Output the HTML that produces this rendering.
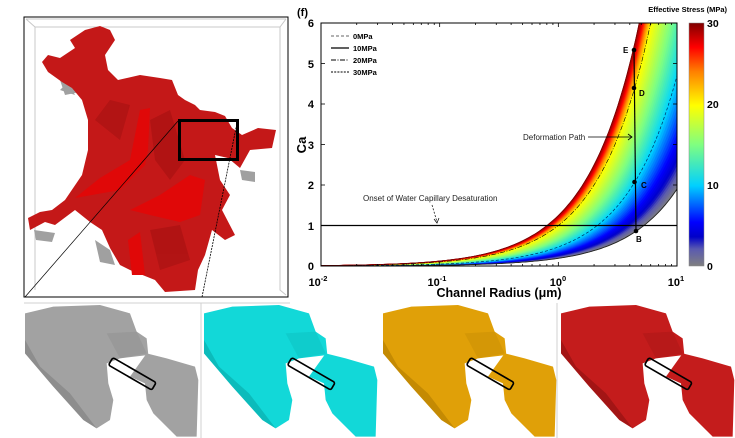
<!DOCTYPE html>
<html><head><meta charset="utf-8"><style>
html,body{margin:0;background:#fff;width:735px;height:438px;overflow:hidden;}
svg{display:block;font-family:"Liberation Sans",sans-serif;}
</style></head><body>
<svg id="s" width="735" height="438" viewBox="0 0 735 438" xmlns="http://www.w3.org/2000/svg">
<defs>
<clipPath id="pc"><rect x="321" y="23" width="356" height="243"/></clipPath>
<linearGradient id="cb" x1="0" y1="1" x2="0" y2="0">
<stop offset="0" stop-color="#808080"/><stop offset="0.07" stop-color="#5a5ab0"/><stop offset="0.12" stop-color="#0000c8"/>
<stop offset="0.18" stop-color="#0000ff"/><stop offset="0.33" stop-color="#00d0ff"/><stop offset="0.5" stop-color="#80ff80"/>
<stop offset="0.66" stop-color="#ffff00"/><stop offset="0.8" stop-color="#ff8000"/><stop offset="0.9" stop-color="#ff0000"/><stop offset="1" stop-color="#800000"/>
</linearGradient>
</defs>
<!-- 3D panel -->
<rect x="24" y="17" width="264" height="280" fill="#fff" stroke="#000" stroke-width="1"/>
<path d="M26,19 L286,19 M26,19 L35,27 L280,27 L286,19 M280,27 L280,290 L286,295 M35,27 L35,290" stroke="#c8c8c8" fill="none"/>
<g fill="#a0a0a0">
<polygon points="60,80 70,78 80,92 65,95"/><polygon points="95,240 110,250 115,265 100,262"/><polygon points="34,230 55,233 52,242 36,240"/>
<polygon points="240,170 255,172 255,182 242,180"/><polygon points="60,90 68,82 75,95"/>
</g>
<g fill="#c41818">
<polygon points="42,62 48,55 60,58 75,48 70,40 85,30 100,26 110,30 115,40 105,55 108,70 118,80 140,75 160,78 172,80 178,95 185,100 195,105 200,110 215,112 225,116 232,128 242,135 258,128 276,130 272,148 250,150 240,168 228,158 215,155 220,180 230,195 222,210 235,235 225,240 212,230 205,255 198,270 195,290 165,292 155,280 130,270 120,265 110,248 102,230 90,222 75,210 55,225 45,222 30,230 28,218 40,212 52,210 65,200 82,175 88,150 88,120 82,100 72,88 62,82 48,72"/>
</g>
<g fill="#e00808">
<polygon points="75,198 100,178 130,160 140,110 150,108 148,150 145,165 120,190"/>
<polygon points="130,210 160,195 190,175 205,180 200,215 180,222 150,215"/>
<polygon points="128,240 140,232 145,275 132,275"/>
</g>
<g fill="#a01010" opacity="0.5">
<polygon points="150,120 170,110 185,160 170,180 155,160"/><polygon points="150,230 180,225 190,260 160,270"/><polygon points="95,120 110,100 130,105 120,140"/>
</g>
<rect x="179.5" y="120.5" width="58" height="39" fill="none" stroke="#000" stroke-width="3"/>
<line x1="25" y1="297" x2="178" y2="121" stroke="#000" stroke-width="0.7"/>
<line x1="202" y1="297" x2="237" y2="123" stroke="#000" stroke-width="0.8" stroke-dasharray="2,1"/>

<!-- bottom panels -->
<g id="bp"></g>
<line x1="24" y1="303" x2="290" y2="303" stroke="#d0d0d0"/>
<line x1="201" y1="303" x2="201" y2="438" stroke="#d0d0d0"/>
<line x1="557" y1="303" x2="557" y2="438" stroke="#d0d0d0"/>

<!-- chart -->
<g id="bands" clip-path="url(#pc)"></g>
<g id="lines" clip-path="url(#pc)" fill="none"></g>
<rect x="321" y="23" width="356" height="243" fill="none" stroke="#000" stroke-width="1"/>
<g id="ticks" stroke="#000" stroke-width="0.8"></g>
<line x1="321" y1="225.5" x2="677" y2="225.5" stroke="#000" stroke-width="1.3"/>
<line x1="634" y1="50" x2="636" y2="231" stroke="#000" stroke-width="1.2"/>
<g fill="#000"><circle cx="634" cy="50" r="2.3"/><circle cx="634" cy="88" r="2.3"/><circle cx="634.5" cy="182" r="2.3"/><circle cx="636" cy="231" r="2.3"/></g>
<g font-size="8" font-weight="bold"><text x="623" y="53">E</text><text x="639" y="96">D</text><text x="641" y="188">C</text><text x="636" y="242">B</text></g>
<text x="363" y="201" font-size="8" fill="#222">Onset of Water Capillary Desaturation</text>
<path d="M432,205 L437,222" stroke="#000" stroke-width="0.7" stroke-dasharray="2,1.5" fill="none"/>
<path d="M434,219 L437,223 L439,218" stroke="#000" stroke-width="0.7" fill="none"/>
<text x="523" y="140" font-size="8" fill="#222">Deformation Path</text>
<path d="M588,137 L632,137" stroke="#000" stroke-width="0.7"/>
<path d="M628,134 L632,137 L628,140" stroke="#000" stroke-width="0.8" fill="none"/>
<g font-size="7.5" font-weight="bold">
<line x1="331" y1="36" x2="349" y2="36" stroke="#666" stroke-dasharray="3,2"/><text x="353" y="39">0MPa</text>
<line x1="331" y1="48" x2="349" y2="48" stroke="#000" stroke-width="1.2"/><text x="353" y="51">10MPa</text>
<line x1="331" y1="60" x2="349" y2="60" stroke="#000" stroke-dasharray="5,1.5,1,1.5"/><text x="353" y="63">20MPa</text>
<line x1="331" y1="72" x2="349" y2="72" stroke="#000" stroke-dasharray="2,1.2"/><text x="353" y="75">30MPa</text>
</g>
<g font-size="11" font-weight="bold" text-anchor="end">
<text x="314" y="27">6</text><text x="314" y="68">5</text><text x="314" y="108">4</text><text x="314" y="149">3</text><text x="314" y="189">2</text><text x="314" y="230">1</text><text x="314" y="270">0</text>
</g>
<g font-size="11" font-weight="bold" text-anchor="middle">
<text x="318" y="286">10<tspan dy="-5" font-size="7.5">-2</tspan></text>
<text x="437" y="286">10<tspan dy="-5" font-size="7.5">-1</tspan></text>
<text x="558" y="286">10<tspan dy="-5" font-size="7.5">0</tspan></text>
<text x="676" y="286">10<tspan dy="-5" font-size="7.5">1</tspan></text>
<text x="499" y="297" font-size="12.5">Channel Radius (μm)</text>
</g>
<text x="306" y="145" font-size="13" font-weight="bold" transform="rotate(-90 306 145)" text-anchor="middle">Ca</text>
<text x="297" y="16" font-size="11" font-weight="bold">(f)</text>
<text x="727" y="12" font-size="7.5" font-weight="bold" text-anchor="end">Effective Stress (MPa)</text>
<rect x="689" y="23" width="15" height="243" fill="url(#cb)" stroke="#888" stroke-width="0.5"/>
<g font-size="10.5" font-weight="bold"><text x="707" y="27">30</text><text x="707" y="108">20</text><text x="707" y="189">10</text><text x="707" y="270">0</text></g>
</svg>
<script>
(function(){
var NS="http://www.w3.org/2000/svg";
function el(p,t,a){var e=document.createElementNS(NS,t);for(var k in a)e.setAttribute(k,a[k]);p.appendChild(e);return e;}
function X(r){return 321+(Math.log10(r)+2)*118.67;}
function Y(c){return 266-c*40.5;}
var A=[[0,0.19],[10,0.47],[20,1.0],[30,1.25]];
function a(s){for(var i=0;i<3;i++){if(s<=A[i+1][0]){var t=(s-A[i][0])/10;return A[i][1]*Math.pow(A[i+1][1]/A[i][1],t);}}return A[3][1];}
var C=[[0,128,128,128],[2,90,90,176],[3.5,0,0,200],[5.5,0,0,255],[10,0,215,255],[15,128,255,128],[20,255,255,0],[24,255,128,0],[27,255,0,0],[30,150,0,0]];
function col(s){for(var i=0;i<C.length-1;i++){if(s<=C[i+1][0]){var t=(s-C[i][0])/(C[i+1][0]-C[i][0]);
 var r=C[i][1]+(C[i+1][1]-C[i][1])*t,g=C[i][2]+(C[i+1][2]-C[i][2])*t,b=C[i][3]+(C[i+1][3]-C[i][3])*t;
 return "rgb("+Math.round(r)+","+Math.round(g)+","+Math.round(b)+")";}}return "rgb(150,0,0)";}
var bands=document.getElementById("bands");
var N=60;
for(var i=0;i<N;i++){
 var s1=30*i/N,s2=30*(i+1)/N,a1=a(s1),a2=a(s2),pts=[];
 for(var j=0;j<=120;j++){var r=Math.pow(10,-2+3*j/120);pts.push(X(r).toFixed(1)+","+Y(Math.min(a1*r,7)).toFixed(1));}
 for(var j=120;j>=0;j--){var r=Math.pow(10,-2+3*j/120);pts.push(X(r).toFixed(1)+","+Y(Math.min(a2*r,7)).toFixed(1));}
 var c=col((s1+s2)/2);
 el(bands,"polygon",{points:pts.join(" "),fill:c,stroke:c,"stroke-width":"0.6"});
}
var lines=document.getElementById("lines");
function curve(aa,st,da,w){var p=[];for(var j=0;j<=150;j++){var r=Math.pow(10,-2+3*j/150);p.push(X(r).toFixed(1)+","+Y(Math.min(aa*r,7)).toFixed(1));}
 var o={points:p.join(" "),stroke:st,"stroke-width":w||0.8,fill:"none"};if(da)o["stroke-dasharray"]=da;el(lines,"polyline",o);}
curve(0.19,"#222",null,0.9);
curve(0.47,"#003060","3,2",0.7);
curve(1.0,"#000","5,1.5,1,1.5",0.6);
curve(1.25,"#700000",null,0.6);
var tk=document.getElementById("ticks");
for(var d=-2;d<1;d++)for(var m=1;m<10;m++){var x=X(m*Math.pow(10,d));var L=(m==1)?4:2;el(tk,"line",{x1:x,y1:266,x2:x,y2:266-L});el(tk,"line",{x1:x,y1:23,x2:x,y2:23+L});}
for(var c=0;c<=6;c++){var y=Y(c);el(tk,"line",{x1:321,y1:y,x2:325,y2:y});el(tk,"line",{x1:677,y1:y,x2:673,y2:y});}
// bottom panels
var bp=document.getElementById("bp");
var panels=[[20,"#a2a2a2","#7e7e7e"],[199,"#12d8d8","#08a8a8"],[378,"#e0a008","#b07c00"],[556,"#c41c1c","#8e1010"]];
var main="15,40 100,20 240,15 330,40 350,95 380,115 385,165 300,175 260,190 265,250 280,300 270,360 230,385 190,360 100,260 15,160";
var sec="380,160 440,175 525,200 535,240 530,410 470,410 400,340 380,300 375,250 330,230";
var dark="15,160 100,260 190,360 230,385 150,280 60,200 15,120";
panels.forEach(function(p,k){
 var cid="bc"+k;
 var cp=el(document.querySelector("defs"),"clipPath",{id:cid});
 el(cp,"rect",{x:p[0]+5,y:304,width:176,height:134});
 var outer=el(bp,"g",{"clip-path":"url(#"+cid+")"});
 var g=el(outer,"g",{transform:"translate("+p[0]+",300) scale(0.3333)"});
 el(g,"polygon",{points:main,fill:p[1]});
 el(g,"polygon",{points:sec,fill:p[1]});
 el(g,"polygon",{points:dark,fill:p[2],opacity:"0.6"});
 el(g,"polygon",{points:"260,100 350,95 380,160 300,175",fill:p[2],opacity:"0.25"});
 el(g,"rect",{x:"0",y:"-13",width:"150",height:"26",rx:"6",fill:"none",stroke:"#000","stroke-width":"5",transform:"translate(272,184) rotate(30)"});
});
})();
</script>
</body></html>
